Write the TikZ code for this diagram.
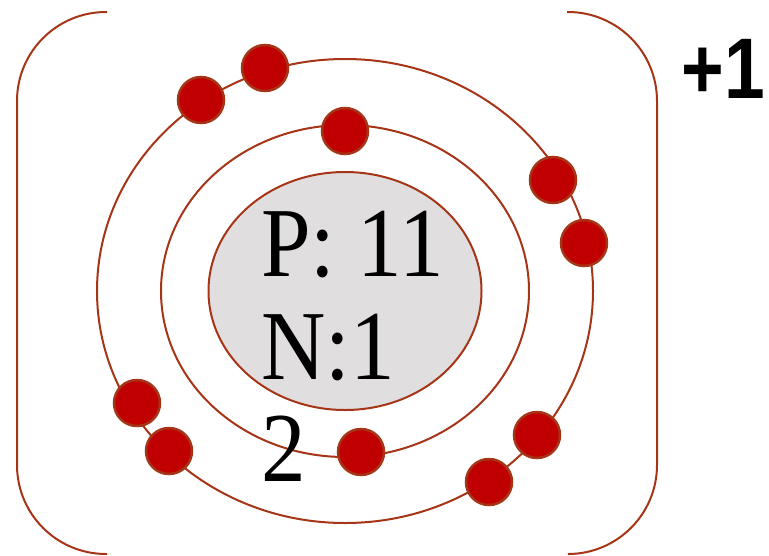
\documentclass[tikz,border=0pt]{standalone}
\usepackage{fontspec}
\newfontfamily\chargefont{Liberation Sans}[FakeStretch=0.85]
\newfontfamily\countfont{Liberation Serif}[FakeStretch=0.9]
\usetikzlibrary{shapes.geometric}

\definecolor{shellline}{RGB}{166,52,22}
\definecolor{electronred}{RGB}{192,0,0}
\definecolor{nucleusgray}{RGB}{224,222,223}

\tikzset{
    orbit/.style={draw=shellline, line width=2pt},
    electron/.style={circle, draw=shellline, line width=2.5pt, fill=electronred,
        minimum size=46pt, inner sep=0pt},
    nucleus/.style={ellipse, draw=shellline, line width=2pt, fill=nucleusgray,
        minimum width=273pt, minimum height=238pt, inner sep=0pt},
}

\begin{document}
\begin{tikzpicture}[x=1pt, y=-1pt]
    \useasboundingbox (0,0) rectangle (769,555);

    % Bracket
    \draw[orbit, rounded corners=89pt] (107,12) -- (17,12) -- (17,554) -- (107,554);
    \draw[orbit, rounded corners=89pt] (567,12) -- (657,12) -- (657,554) -- (570,554);

    % Orbits
    \draw[orbit] (345,291) ellipse [x radius=248, y radius=232];
    \draw[orbit] (345,291) ellipse [x radius=184, y radius=166];

    % Nucleus
    \node[nucleus] (nuc) at (345,291) {};
    \node[anchor=north west, inner sep=0pt, align=left,
          font=\countfont\fontsize{99}{102.5}\selectfont] (count) at (261,211) {P: 11\\N:1\\2};

    % Electrons, outer shell
    \foreach \name/\x/\y in {o1/201/100, o2/265/68, o3/553/180, o4/584/243,
                             o5/137/403, o6/169/451, o7/537/435, o8/489/482}
        \node[electron] (\name) at (\x,\y) {};

    % Electrons, inner shell
    \foreach \name/\x/\y in {i1/345/131, i2/361/452}
        \node[electron] (\name) at (\x,\y) {};

    % Charge
    \node[font=\chargefont\bfseries\fontsize{86}{86}\selectfont, inner sep=0pt]
        (charge) at (723,69) {+1};

\end{tikzpicture}
\end{document}
